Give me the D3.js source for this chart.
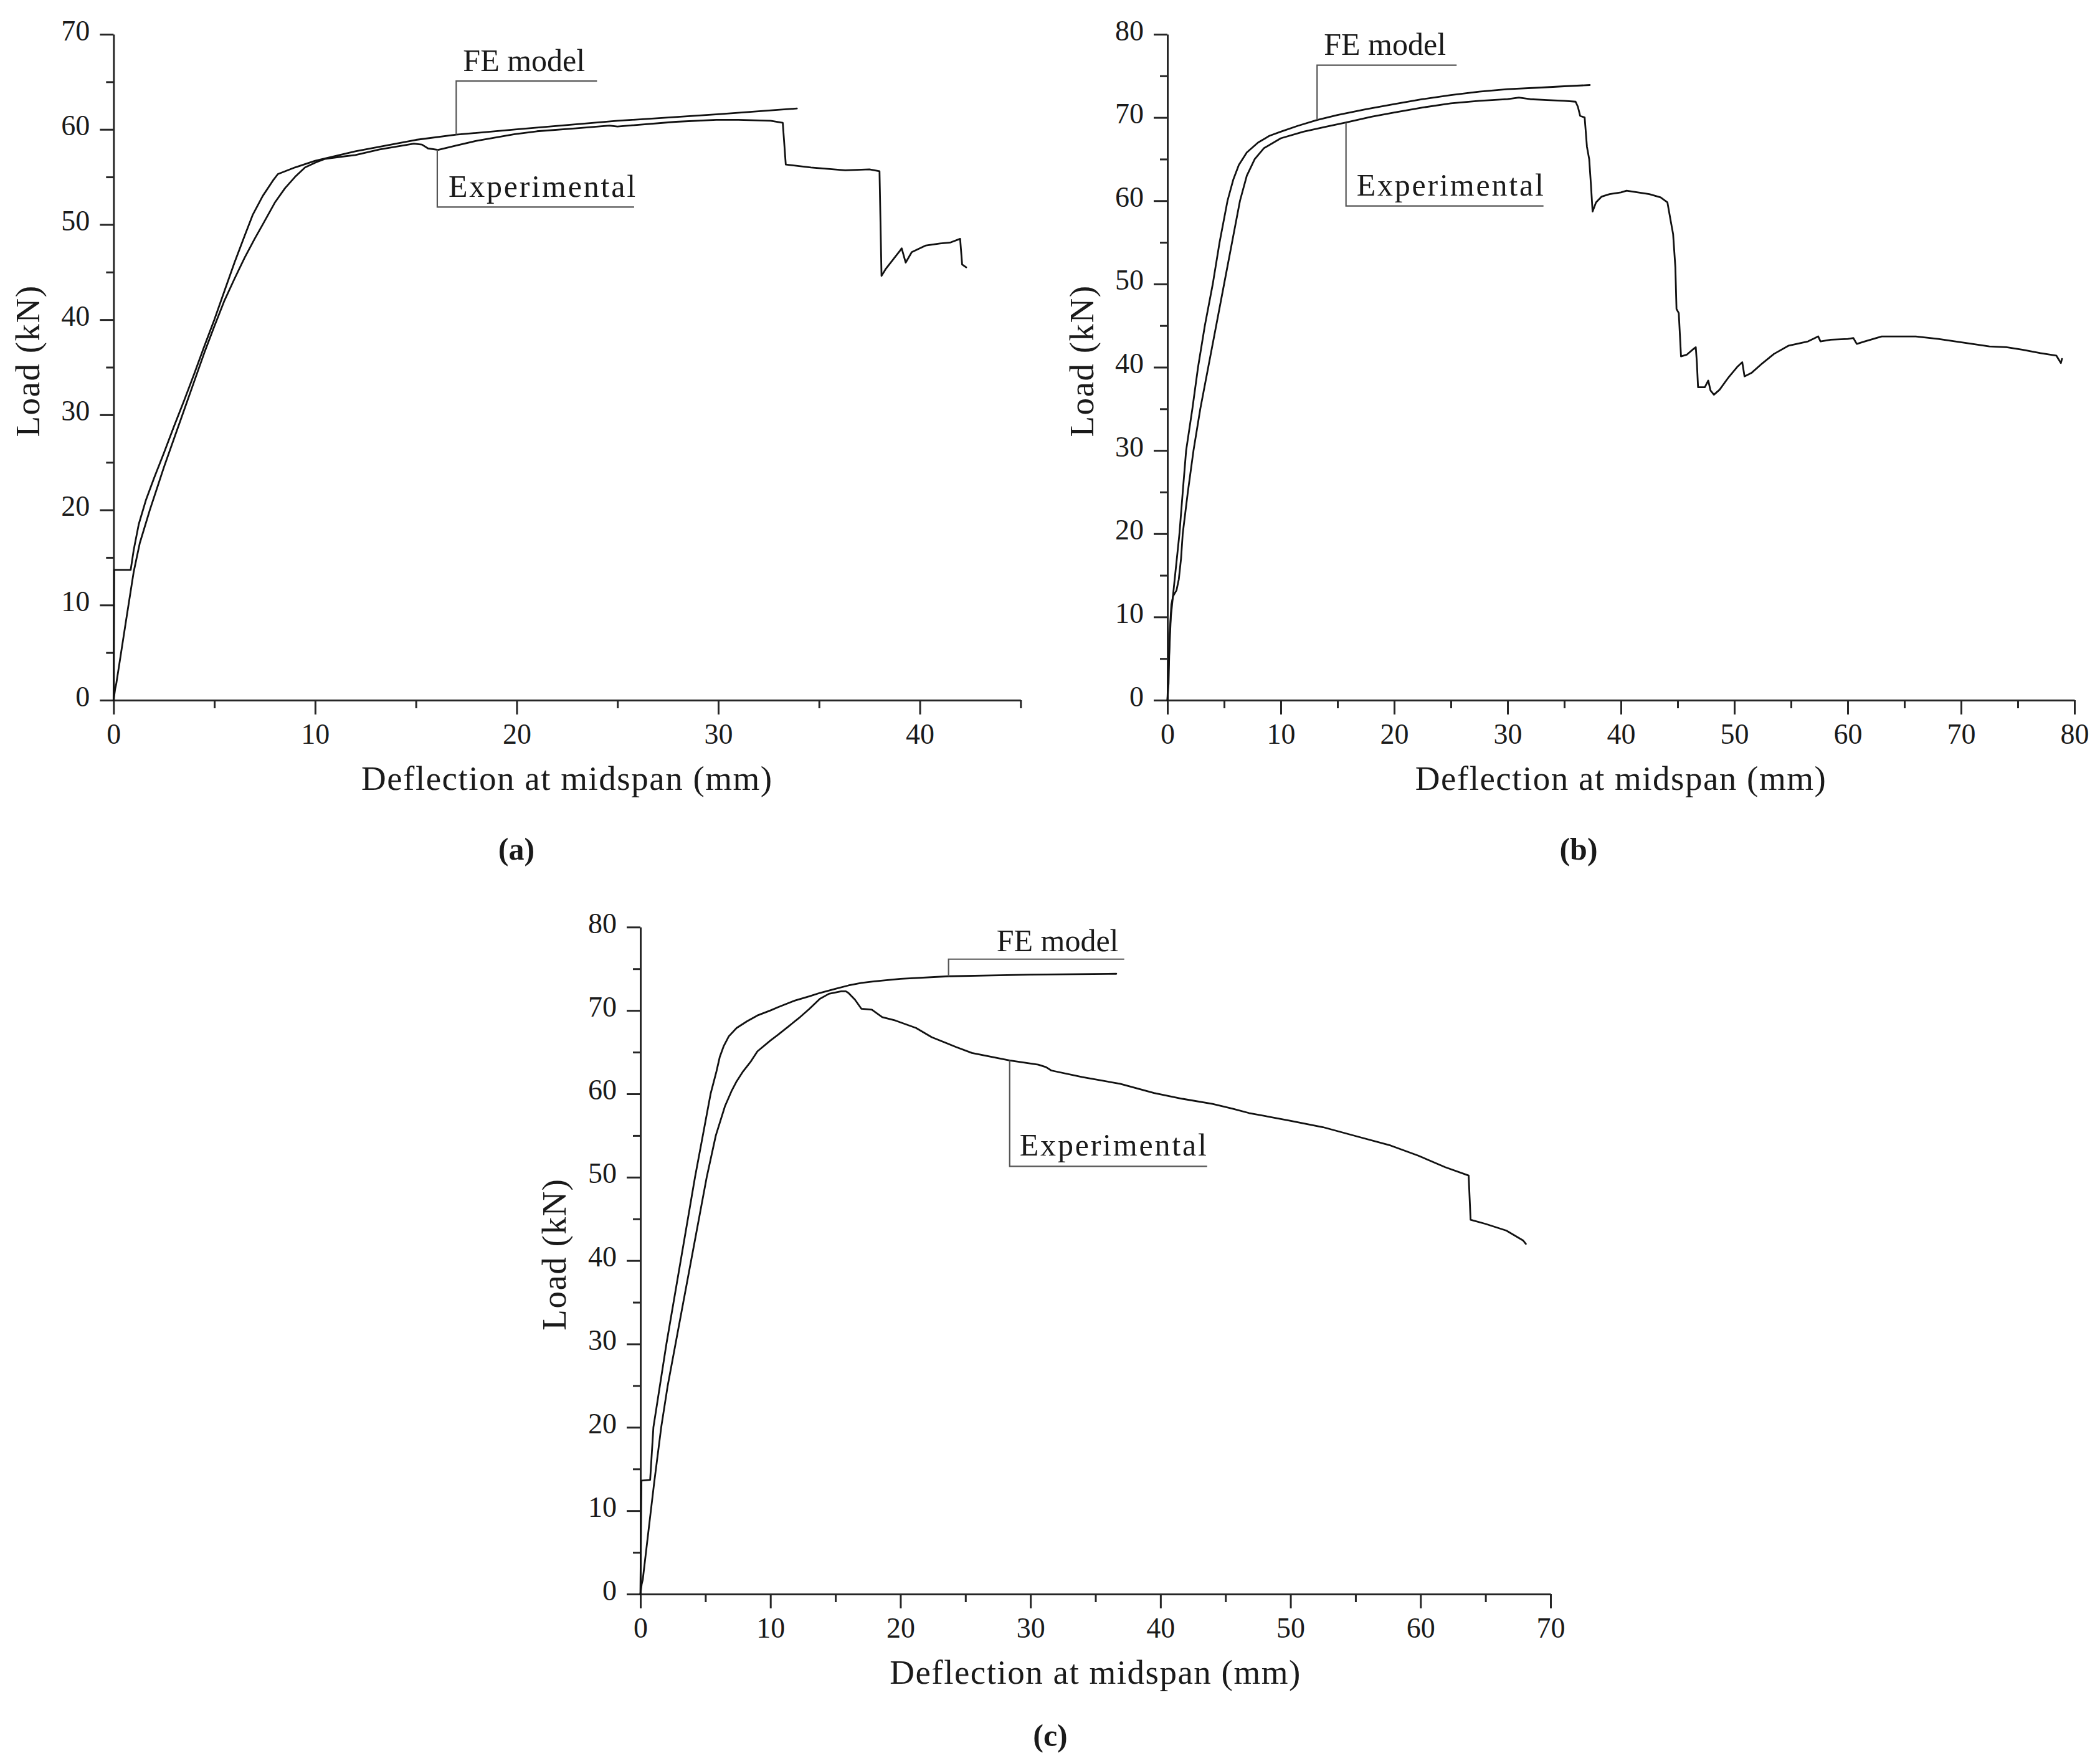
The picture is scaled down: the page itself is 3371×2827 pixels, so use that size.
<!DOCTYPE html>
<html>
<head>
<meta charset="utf-8">
<script src="https://cdn.jsdelivr.net/npm/d3@7"></script>
<style>
  html, body { margin: 0; padding: 0; background: #ffffff; }
  svg { display: block; }
  .axis .domain, .axis .tick line { stroke: #262626; stroke-width: 3; }
  .axis text { font-family: "Liberation Serif", "DejaVu Serif", serif; font-size: 46px; fill: #1a1a1a; }
  .curve { fill: none; stroke: #111111; stroke-width: 2.8; stroke-linejoin: round; stroke-linecap: round; }
  .leader { fill: none; stroke: #555555; stroke-width: 2.2; }
  .lbl { font-family: "Liberation Serif", "DejaVu Serif", serif; font-size: 50px; fill: #1a1a1a; }
  .title { font-family: "Liberation Serif", "DejaVu Serif", serif; font-size: 55px; fill: #1a1a1a; letter-spacing: 1.5px; }
  .sub { font-family: "Liberation Serif", "DejaVu Serif", serif; font-size: 50px; font-weight: bold; fill: #1a1a1a; }
</style>
</head>
<body>
<svg id="chart" width="3371" height="2827"></svg>
<script>
// ---------------- DATA ----------------
// Panel (a): [deflection mm, load kN]
const aFE = [[0,0],[0.03,13.7],[0.85,13.7],[1.0,15.8],[1.25,18.5],[1.6,21],[2.0,23.3],[2.5,26],[3,28.8],[3.5,31.5],[4,34.3],[4.5,37.2],[5,40],[5.5,43],[6,46],[6.5,48.8],[6.9,51],[7.4,53],[7.9,54.6],[8.15,55.3],[9,56],[10,56.7],[12,57.7],[15,58.9],[17,59.45],[20,60],[25,60.9],[30,61.6],[33.9,62.2]];
const aExp = [[0,0],[0.08,1.2],[0.14,1.8],[0.6,8.1],[1.0,13.5],[1.3,16.5],[1.8,20],[2.5,24.5],[3,27.5],[3.5,30.5],[4,33.5],[4.5,36.5],[5,39.3],[5.5,42],[6,44.3],[6.5,46.5],[7,48.5],[7.4,50],[8,52.3],[8.5,53.8],[9,55],[9.5,56],[10,56.5],[10.5,56.9],[11.2,57.1],[12,57.3],[13.2,57.9],[14.9,58.5],[15.3,58.4],[15.6,58.0],[16.1,57.85],[17,58.3],[18,58.8],[19.9,59.5],[21,59.8],[22.9,60.1],[24.6,60.4],[25,60.3],[27.9,60.8],[29.9,61],[31,61],[32.6,60.9],[33.2,60.7],[33.35,56.3],[34.6,56],[36.3,55.7],[37.5,55.8],[38,55.6],[38.1,44.6],[38.3,45.3],[39,47.2],[39.1,47.5],[39.3,46],[39.6,47.1],[40.3,47.8],[41,48],[41.5,48.1],[42,48.5],[42.1,45.8],[42.3,45.5]];

// Panel (b)
const bFE = [[0,0],[0.1,4],[0.3,10],[0.6,14],[1.06,20],[1.35,25],[1.65,30],[2.2,35],[2.7,40],[3.3,45],[4.0,50],[4.6,55],[5.3,60],[5.8,62.5],[6.3,64.3],[7,65.8],[8,67],[9,67.8],[10,68.3],[11.5,69],[13.2,69.7],[15,70.3],[17.5,71],[20,71.6],[22.5,72.2],[25,72.7],[27.5,73.1],[30,73.4],[33,73.6],[35,73.75],[37.25,73.9]];
const bExp = [[0,0],[0.1,2],[0.2,8],[0.35,11.5],[0.5,12.5],[0.8,13.2],[1.0,14.5],[1.2,17],[1.35,20],[1.8,25],[2.3,30],[2.9,35],[3.6,40],[4.3,45],[5.0,50],[5.7,55],[6.4,60],[7.0,63],[7.7,65],[8.5,66.3],[10,67.5],[12,68.3],[14,68.9],[15.75,69.4],[18,70.1],[20,70.6],[22.5,71.2],[25,71.7],[27.5,72],[30,72.2],[31,72.4],[32,72.2],[33.5,72.1],[35,72],[36,71.9],[36.2,71.3],[36.4,70.2],[36.8,70.0],[37.0,66.5],[37.2,65],[37.35,62],[37.5,58.7],[37.8,59.8],[38.3,60.5],[39,60.8],[40,61],[40.5,61.2],[41.5,61],[42.5,60.8],[43.5,60.4],[44.1,59.8],[44.4,57.5],[44.6,56],[44.8,52],[44.9,47],[45.1,46.5],[45.3,41.3],[45.8,41.5],[46.4,42.2],[46.6,42.4],[46.7,40.5],[46.8,37.6],[47.4,37.6],[47.7,38.4],[47.9,37.2],[48.2,36.7],[48.7,37.3],[49.5,38.8],[50.3,40.1],[50.7,40.6],[50.9,38.9],[51.5,39.3],[52.5,40.5],[53.5,41.6],[54.8,42.6],[55.5,42.8],[56.5,43.1],[57.1,43.5],[57.4,43.7],[57.6,43.1],[58.5,43.3],[60,43.4],[60.5,43.5],[60.8,42.8],[61.5,43.1],[63,43.7],[65,43.7],[66,43.7],[68,43.4],[69.5,43.1],[71,42.8],[72.5,42.5],[74,42.4],[75.4,42.1],[77,41.7],[78.4,41.4],[78.8,40.5],[78.9,41]];

// Panel (c)
const cFE = [[0,0],[0.08,13.6],[0.75,13.7],[1.0,20],[2.0,30],[3.1,40],[4.2,50],[4.8,55],[5.4,60],[5.85,62.7],[6.1,64.4],[6.4,65.7],[6.8,66.9],[7.4,67.9],[8.2,68.7],[9,69.4],[10,70],[10.6,70.4],[11.9,71.2],[13,71.7],[13.8,72.1],[15,72.6],[16,73],[17,73.3],[18,73.5],[20,73.8],[23.7,74.1],[27,74.2],[30,74.3],[36.6,74.4]];
const cExp = [[0,0],[0.1,1.2],[0.18,1.7],[0.66,8.1],[1.07,13.5],[1.6,20],[2.1,25],[2.7,30],[3.3,35],[3.9,40],[4.5,45],[5.1,50],[5.8,55],[6.5,58.5],[7.0,60.3],[7.4,61.5],[7.9,62.7],[8.5,63.9],[9.0,65.1],[10,66.4],[10.6,67.1],[11.4,68.1],[12.2,69.1],[13,70.2],[13.8,71.4],[14.5,72],[15.45,72.3],[15.8,72.3],[16,72.1],[16.5,71.3],[17,70.2],[17.8,70.1],[18.6,69.2],[19.6,68.8],[21.2,67.9],[22.4,66.8],[24.3,65.6],[25.5,64.9],[28.4,64],[30.6,63.5],[31.2,63.2],[31.6,62.8],[34,62],[36.9,61.2],[39.5,60.1],[41.7,59.4],[44,58.8],[45.6,58.2],[46.8,57.7],[49.9,56.8],[52.5,56],[55.1,54.9],[57.7,53.8],[59.8,52.6],[61.9,51.2],[63.7,50.2],[63.85,44.9],[65,44.4],[66.6,43.6],[67.9,42.4],[68.1,42]];

// Axis domains and tick values
const aXDomain = [0, 45], aYDomain = [0, 70];
const bXDomain = [0, 80], bYDomain = [0, 80];
const cXDomain = [0, 70], cYDomain = [0, 80];
const aXMajor = [0, 10, 20, 30, 40], aXMinor = [5, 15, 25, 35, 45];
const bXMajor = [0, 10, 20, 30, 40, 50, 60, 70, 80], bXMinor = [5, 15, 25, 35, 45, 55, 65, 75];
const cXMajor = [0, 10, 20, 30, 40, 50, 60, 70], cXMinor = [5, 15, 25, 35, 45, 55, 65];
const aYMajor = [0, 10, 20, 30, 40, 50, 60, 70], aYMinor = [5, 15, 25, 35, 45, 55, 65];
const bYMajor = [0, 10, 20, 30, 40, 50, 60, 70, 80], bYMinor = [5, 15, 25, 35, 45, 55, 65, 75];
const cYMajor = bYMajor, cYMinor = bYMinor;

// Texts
const xTitle = "Deflection at midspan (mm)";
const yTitle = "Load (kN)";
const feLabel = "FE model";
const expLabel = "Experimental";
const subLabels = ["(a)", "(b)", "(c)"];
// Leader anchor positions (deflection where each leader touches its curve)
const feAnchorX = [17.0, 13.2, 23.7];
const expAnchorX = [16.06, 15.75, 28.4];

// ---------------- LAYOUT (pixels) ----------------
const layout = [
  { left: 182.3, right: 1638.3, top: 55, bottom: 1124, yTitleX: 63, xTitleY: 1268, subX: 829, subY: 1380,
    fe: { dy: -86, len: 226, tdx: 11, tdy: -102 }, exp: { dy: 92, len: 316, tdx: 18, tdy: 76, ls: 2.8 } },
  { left: 1874, right: 3330, top: 55, bottom: 1124, yTitleX: 1755, xTitleY: 1268, subX: 2534, subY: 1380,
    fe: { dy: -88, len: 224, tdx: 11, tdy: -105 }, exp: { dy: 134, len: 317, tdx: 17, tdy: 117, ls: 2.8 } },
  { left: 1028, right: 2489, top: 1488.3, bottom: 2559, yTitleX: 908, xTitleY: 2703, subX: 1686, subY: 2803,
    fe: { dy: -27.5, len: 282, tdx: 77, tdy: -40 }, exp: { dy: 170, len: 317, tdx: 16, tdy: 153, ls: 2.8 } }
];

const panels = [
  { fe: aFE, exp: aExp, xd: aXDomain, yd: aYDomain, xM: aXMajor, xm: aXMinor, yM: aYMajor, ym: aYMinor },
  { fe: bFE, exp: bExp, xd: bXDomain, yd: bYDomain, xM: bXMajor, xm: bXMinor, yM: bYMajor, ym: bYMinor },
  { fe: cFE, exp: cExp, xd: cXDomain, yd: cYDomain, xM: cXMajor, xm: cXMinor, yM: cYMajor, ym: cYMinor }
];

// ---------------- DRAW ----------------
const svg = d3.select("#chart");
svg.append("rect").attr("width", 3371).attr("height", 2827).attr("fill", "#ffffff");

function yAt(series, xv) {
  for (let i = 0; i < series.length - 1; i++) {
    const a = series[i], b = series[i + 1];
    if (b[0] > a[0] && a[0] <= xv && b[0] >= xv) {
      return a[1] + (b[1] - a[1]) * (xv - a[0]) / (b[0] - a[0]);
    }
  }
  return series[series.length - 1][1];
}

panels.forEach((p, i) => {
  const L = layout[i];
  const x = d3.scaleLinear().domain(p.xd).range([L.left, L.right]);
  const y = d3.scaleLinear().domain(p.yd).range([L.bottom, L.top]);
  const g = svg.append("g");

  // minor ticks
  g.append("g").attr("class", "axis").attr("transform", `translate(0,${L.bottom})`)
    .call(d3.axisBottom(x).tickValues(p.xm).tickSize(13).tickSizeOuter(0).tickFormat(""))
    .call(s => s.select(".domain").remove());
  g.append("g").attr("class", "axis").attr("transform", `translate(${L.left},0)`)
    .call(d3.axisLeft(y).tickValues(p.ym).tickSize(12).tickSizeOuter(0).tickFormat(""))
    .call(s => s.select(".domain").remove());

  // major axes
  const gx = g.append("g").attr("class", "axis").attr("transform", `translate(0,${L.bottom})`)
    .call(d3.axisBottom(x).tickValues(p.xM).tickSize(23).tickSizeOuter(0).tickFormat(d3.format("d")));
  gx.selectAll("text").attr("y", 70).attr("dy", null);
  const gy = g.append("g").attr("class", "axis").attr("transform", `translate(${L.left},0)`)
    .call(d3.axisLeft(y).tickValues(p.yM).tickSize(22).tickSizeOuter(0).tickFormat(d3.format("d")));
  gy.selectAll("text").attr("x", -38).attr("dy", null).attr("y", 9);
  gx.attr("font-family", null).attr("font-size", null);
  gy.attr("font-family", null).attr("font-size", null);

  // curves
  const line = d3.line().x(d => x(d[0])).y(d => y(d[1]));
  g.append("path").datum(p.exp).attr("class", "curve").attr("d", line);
  g.append("path").datum(p.fe).attr("class", "curve").attr("d", line);

  // leaders + labels
  [[p.fe, feAnchorX[i], L.fe, feLabel], [p.exp, expAnchorX[i], L.exp, expLabel]].forEach(([ser, ax, o, txt]) => {
    const px = x(ax), py = y(yAt(ser, ax));
    g.append("path").attr("class", "leader")
      .attr("d", `M${px},${py}V${py + o.dy}H${px + o.len}`);
    g.append("text").attr("class", "lbl")
      .attr("x", px + o.tdx).attr("y", py + o.tdy)
      .style("letter-spacing", (o.ls || 0) + "px")
      .text(txt);
  });

  // axis titles
  g.append("text").attr("class", "title")
    .attr("x", (L.left + L.right) / 2).attr("y", L.xTitleY)
    .attr("text-anchor", "middle").text(xTitle);
  const cy = (L.top + L.bottom) / 2 - 10;
  g.append("text").attr("class", "title")
    .attr("transform", `translate(${L.yTitleX},${cy}) rotate(-90)`)
    .attr("text-anchor", "middle").text(yTitle);

  // sub-figure label
  g.append("text").attr("class", "sub")
    .attr("x", L.subX).attr("y", L.subY).attr("text-anchor", "middle").text(subLabels[i]);
});
</script>
</body>
</html>
